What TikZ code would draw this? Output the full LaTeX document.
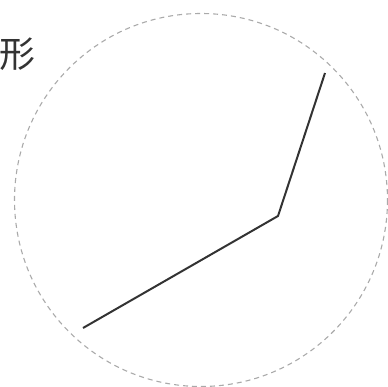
\documentclass[tikz,border=0pt]{standalone}
\usepackage{fontspec}
\newfontfamily\cjk{Noto Sans CJK SC}
\definecolor{ink}{HTML}{333333}
\definecolor{guide}{HTML}{AAAAAA}
\begin{document}
\begin{tikzpicture}[x=1pt,y=-1pt,
  guidecircle/.style={draw=guide, line width=1.1pt, dash pattern=on 5pt off 4pt},
  polyline/.style={draw=ink, line width=2pt, line join=miter},
  label/.style={inner sep=0pt, text=ink, font=\cjk\fontsize{36}{36}\selectfont}]
\useasboundingbox (0,0) rectangle (388,386);
\begin{scope}
\clip (0,0) rectangle (388,386);
\draw[guidecircle] (201,200) circle[radius=186.5];
\end{scope}
\coordinate (p1) at (83,328);
\coordinate (p2) at (278,216);
\coordinate (p3) at (325,73);
\draw[polyline] (p1) -- (p2) -- (p3);
\node[label] (t) at (17.5,54) {形};
\end{tikzpicture}
\end{document}
